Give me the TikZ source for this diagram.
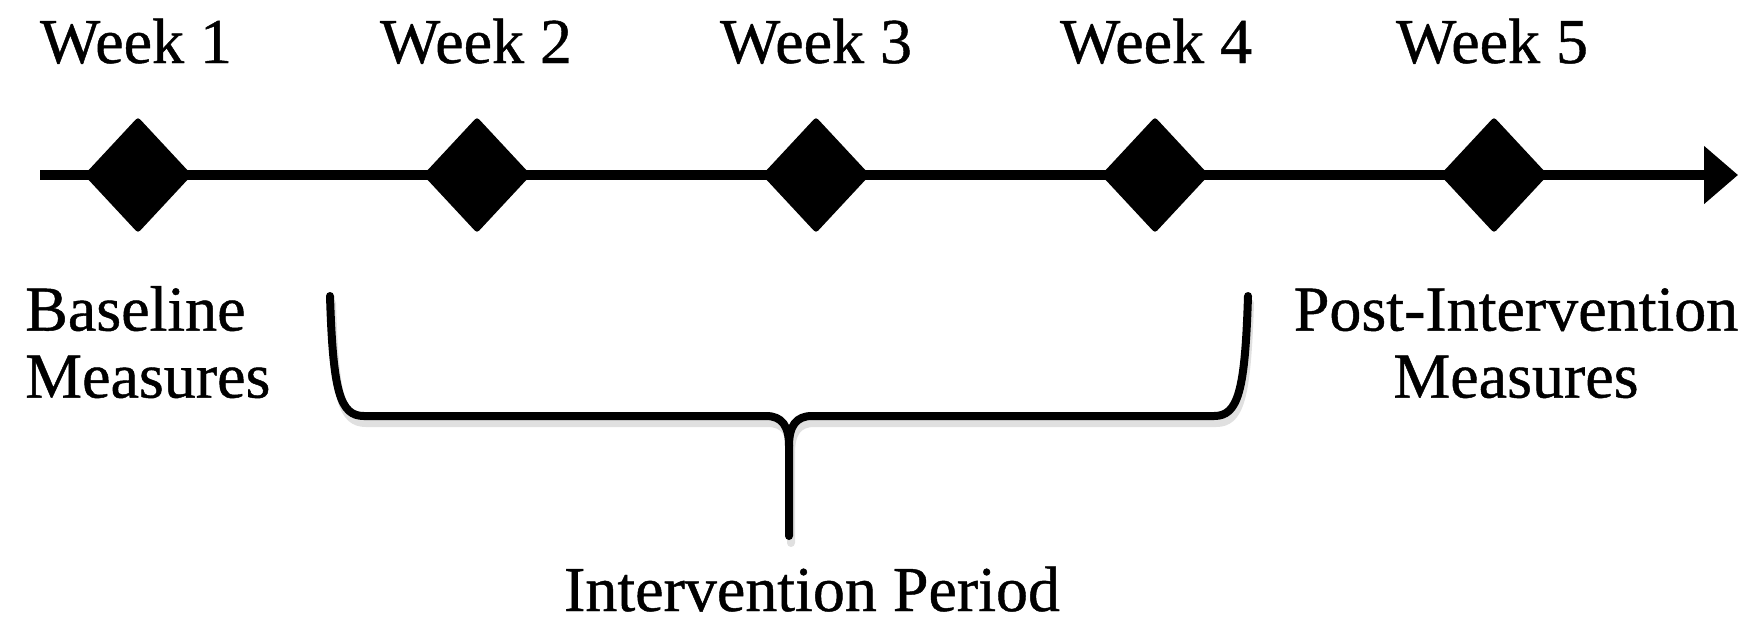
\documentclass[tikz,border=0pt]{standalone}
\usepackage{fontspec}
\setmainfont{Liberation Serif}[FakeBold=0.7]
\usetikzlibrary{shapes.geometric,arrows.meta}
\begin{document}
\begin{tikzpicture}[x=1pt,y=-1pt,
  lbl/.style={font=\fontsize{64}{67}\selectfont, inner sep=0pt},
  marker/.style={diamond, fill=black, minimum width=108pt, minimum height=116pt, inner sep=0pt, rounded corners=3pt},
  axisline/.style={line width=10pt, -{Triangle[length=34pt,width=56pt]}},
  bracestroke/.style={line width=8pt, line cap=round, line join=round}]
\useasboundingbox (0,0) rectangle (1761,622);
% coordinates
\coordinate (start) at (40,175);
\coordinate (end) at (1738,175);
% soft shadows
\begin{scope}[shift={(2,7)}]
  \draw[axisline, black!12] (start) -- (end);
  \draw[bracestroke, black!12] (330,296) .. controls (333,392) and (340,416) .. (364,416) -- (766,416) .. controls (782,416) and (789,426) .. (789,446) -- (789,536);
  \draw[bracestroke, black!12] (1248,296) .. controls (1245,392) and (1238,416) .. (1214,416) -- (812,416) .. controls (796,416) and (789,426) .. (789,446);
\end{scope}
% timeline
\draw[axisline] (start) -- (end);
\node[marker] (d1) at (138,175) {};
\node[marker] (d2) at (477,175) {};
\node[marker] (d3) at (816,175) {};
\node[marker] (d4) at (1155,175) {};
\node[marker] (d5) at (1494,175) {};
% week labels
\node[lbl, anchor=base] (w1) at (136,63) {Week 1};
\node[lbl, anchor=base] (w2) at (476,63) {Week 2};
\node[lbl, anchor=base] (w3) at (816,63) {Week 3};
\node[lbl, anchor=base] (w4) at (1156,63) {Week 4};
\node[lbl, anchor=base] (w5) at (1492,63) {Week 5};
% brace
\draw[bracestroke] (330,296) .. controls (333,392) and (340,416) .. (364,416) -- (766,416) .. controls (782,416) and (789,426) .. (789,446) -- (789,536);
\draw[bracestroke] (1248,296) .. controls (1245,392) and (1238,416) .. (1214,416) -- (812,416) .. controls (796,416) and (789,426) .. (789,446);
% texts
\node[lbl, align=left, anchor=north west] (basem) at (25,286) {Baseline\\Measures};
\node[lbl, align=center, anchor=north] (postm) at (1516,288) {Post-Intervention\\Measures};
\node[lbl, anchor=base] (ip) at (812,611) {Intervention Period};
\end{tikzpicture}
\end{document}
